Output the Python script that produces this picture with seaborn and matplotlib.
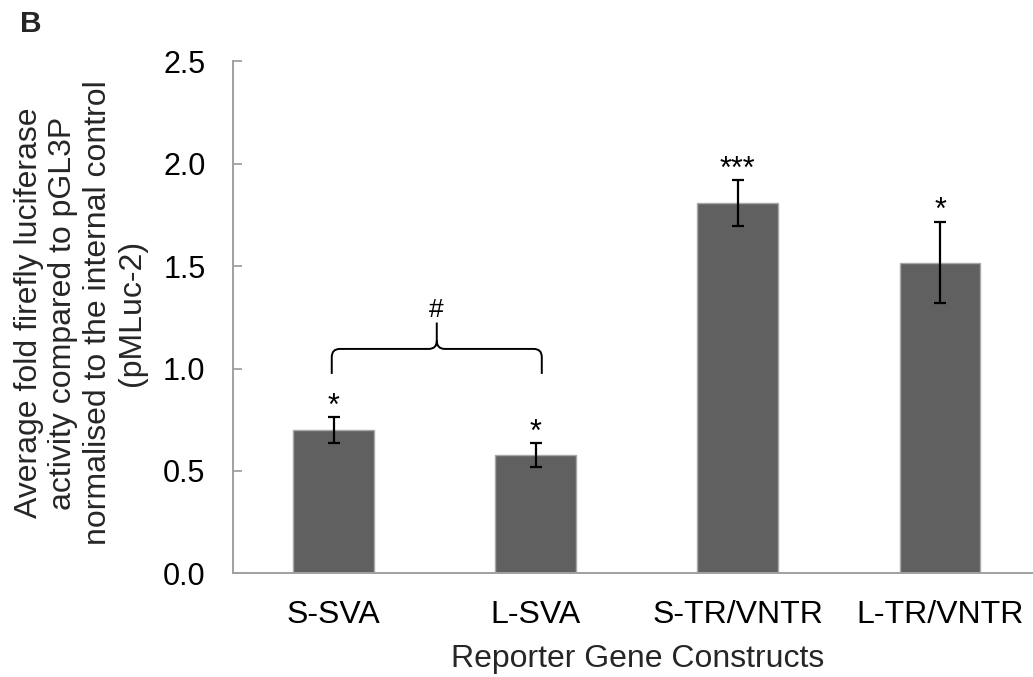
import matplotlib
matplotlib.use("Agg")
import matplotlib.pyplot as plt
from matplotlib.path import Path
from matplotlib.patches import PathPatch
import seaborn as sns
import pandas as pd

# ---- data ----
categories = ["S-SVA", "L-SVA", "S-TR/VNTR", "L-TR/VNTR"]
values = [0.70, 0.577, 1.808, 1.518]
errors = [0.063, 0.060, 0.113, 0.199]
stars = ["*", "*", "***", "*"]
y_ticks = [0.0, 0.5, 1.0, 1.5, 2.0, 2.5]
ylabel = ("Average fold firefly luciferase\nactivity compared to pGL3P\n"
          "normalised to the internal control\n(pMLuc-2)")
xlabel = "Reporter Gene Constructs"
panel = "B"
bracket_pair = [0, 1]
bracket_low, bracket_mid, bracket_peak = 0.974, 1.096, 1.225
bracket_mark = "#"

sns.set_theme(style="white")
plt.rcParams["font.family"] = ["Liberation Sans", "DejaVu Sans"]

W, H = 1033, 677
fig = plt.figure(figsize=(W / 100, H / 100), dpi=100)
ax = fig.add_axes([232.5 / W, 1 - 573.3 / H, 800.5 / W, (573.3 - 61.5) / H])

df = pd.DataFrame({"cat": categories, "val": values})
sns.barplot(data=df, x="cat", y="val", color="#606060", saturation=1,
            width=0.4, edgecolor="#a8a8a8", linewidth=1.0, ax=ax)
ax.errorbar(range(len(categories)), values, yerr=errors, fmt="none",
            ecolor="black", elinewidth=1.6, capsize=4.3, capthick=1.6, zorder=5)

for i, (v, e, s) in enumerate(zip(values, errors, stars)):
    ax.text(i, v + e + 0.012, s, ha="center", va="baseline", fontsize=22,
            color="black")

# curly bracket between first two bars
xl = bracket_pair[0] - 0.009
xr = bracket_pair[1] + 0.03
xc = (xl + xr) / 2
r = 0.04
verts = [
    (xl, bracket_low), (xl, bracket_mid - r), (xl, bracket_mid), (xl + r, bracket_mid),
    (xc - r, bracket_mid), (xc, bracket_mid), (xc, bracket_mid + r), (xc, bracket_peak),
    (xc, bracket_mid + r), (xc, bracket_mid), (xc + r, bracket_mid),
    (xr - r, bracket_mid), (xr, bracket_mid), (xr, bracket_mid - r), (xr, bracket_low),
]
codes = [
    Path.MOVETO, Path.LINETO, Path.CURVE3, Path.CURVE3,
    Path.LINETO, Path.CURVE3, Path.CURVE3, Path.LINETO,
    Path.MOVETO, Path.CURVE3, Path.CURVE3,
    Path.LINETO, Path.CURVE3, Path.CURVE3, Path.LINETO,
]
ax.add_patch(PathPatch(Path(verts, codes), facecolor="none", edgecolor="black",
                       linewidth=1.4, zorder=6))
ax.text(xc - 0.003, 1.253, bracket_mark, ha="center", va="baseline", fontsize=19,
        color="black")

ax.set_ylim(0, 2.5)
ax.set_xlim(-0.5, 3.46)
ax.set_yticks(y_ticks)
ax.set_yticklabels([f"{t:.1f}" for t in y_ticks])
ax.set_xlabel("")
ax.set_ylabel("")

for side in ["top", "right"]:
    ax.spines[side].set_visible(False)
for side in ["left", "bottom"]:
    ax.spines[side].set_color("#a0a0a0")
    ax.spines[side].set_linewidth(1.4)

ax.tick_params(axis="y", direction="in", length=6.5, width=1.3, color="#a0a0a0",
               pad=19.5, labelsize=22, labelcolor="black", left=True)
ax.tick_params(axis="x", length=0, pad=19.5, labelsize=23, labelcolor="black")

fig.text(637.5 / W, 1 - 667.5 / H, xlabel, ha="center", va="baseline", fontsize=23)
fig.text(80.5 / W, 1 - 313 / H, ylabel, ha="center", va="center", rotation=90,
         multialignment="center", fontsize=23, linespacing=1.2)
fig.text(20 / W, 1 - 32 / H, panel, ha="left", va="baseline", fontsize=21.5,
         fontweight="bold")

fig.savefig("out.png", dpi=100)
